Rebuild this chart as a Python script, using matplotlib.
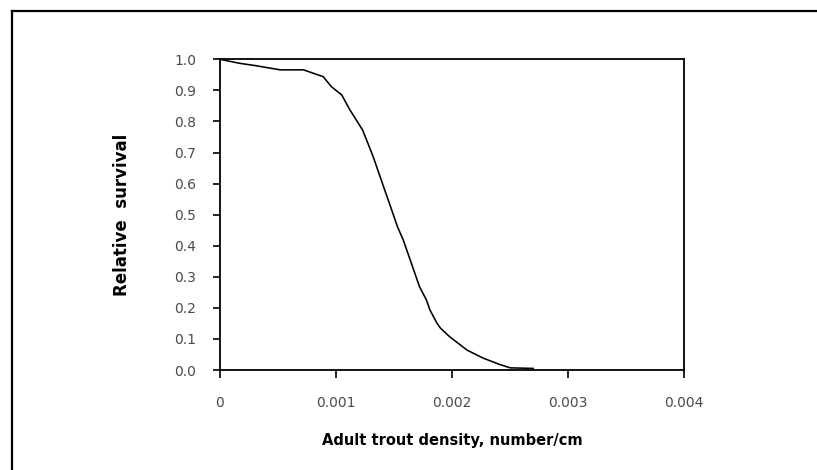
import matplotlib
matplotlib.use("Agg")
import matplotlib.pyplot as plt
from matplotlib.lines import Line2D

# Relative survival of juveniles versus adult trout density
density = [0.0, 0.00017, 0.00030, 0.00052, 0.00072, 0.00089, 0.00096, 0.00105,
           0.00112, 0.00123, 0.00132, 0.00141, 0.00147, 0.00153, 0.00158, 0.00164,
           0.00172, 0.00178, 0.00181, 0.00187, 0.00190, 0.00198, 0.00213, 0.00227,
           0.00241, 0.00250, 0.00270]
survival = [1.0, 0.987, 0.980, 0.966, 0.966, 0.944, 0.912, 0.885,
            0.837, 0.772, 0.687, 0.590, 0.526, 0.461, 0.418, 0.354,
            0.268, 0.225, 0.193, 0.151, 0.135, 0.107, 0.064, 0.038,
            0.018, 0.007, 0.005]

x_ticks = [0, 0.001, 0.002, 0.003, 0.004]
x_tick_labels = ["0", "0.001", "0.002", "0.003", "0.004"]
y_ticks = [0.0, 0.1, 0.2, 0.3, 0.4, 0.5, 0.6, 0.7, 0.8, 0.9, 1.0]
y_tick_labels = ["%.1f" % v for v in y_ticks]

plt.rcParams['font.family'] = ['DejaVu Sans']

fig = plt.figure(figsize=(8.17, 4.70), dpi=100)
fig.patch.set_facecolor("white")

# outer border (top and left edges)
fig.add_artist(Line2D([12 / 817, 1.0], [1 - 10.5 / 470, 1 - 10.5 / 470],
                      transform=fig.transFigure, color="black", lw=1.6))
fig.add_artist(Line2D([12 / 817, 12 / 817], [0.0, 1 - 10.5 / 470],
                      transform=fig.transFigure, color="black", lw=1.6))

ax = fig.add_axes([220 / 817, 100 / 470, 464 / 817, 310.7 / 470])
ax.plot(density, survival, color="black", lw=1.15)

ax.set_xlim(0, 0.004)
ax.set_ylim(0, 1.0)
ax.set_xticks(x_ticks)
ax.set_xticklabels(x_tick_labels)
ax.set_yticks(y_ticks)
ax.set_yticklabels(y_tick_labels)

for s in ax.spines.values():
    s.set_linewidth(1.3)
    s.set_color("black")

ax.tick_params(axis="x", direction="out", length=6, width=1.2, pad=13,
               labelsize=10, labelcolor="#4a4a4a")
ax.tick_params(axis="y", direction="out", length=5, width=1.2, pad=12,
               labelsize=10, labelcolor="#4a4a4a")

ax.set_xlabel("Adult trout density, number/cm", fontsize=10.5, fontweight="bold",
              labelpad=16)
ax.set_ylabel("Relative  survival", fontsize=12, fontweight="bold", labelpad=31)

fig.savefig("out.png", dpi=100, facecolor="white")
